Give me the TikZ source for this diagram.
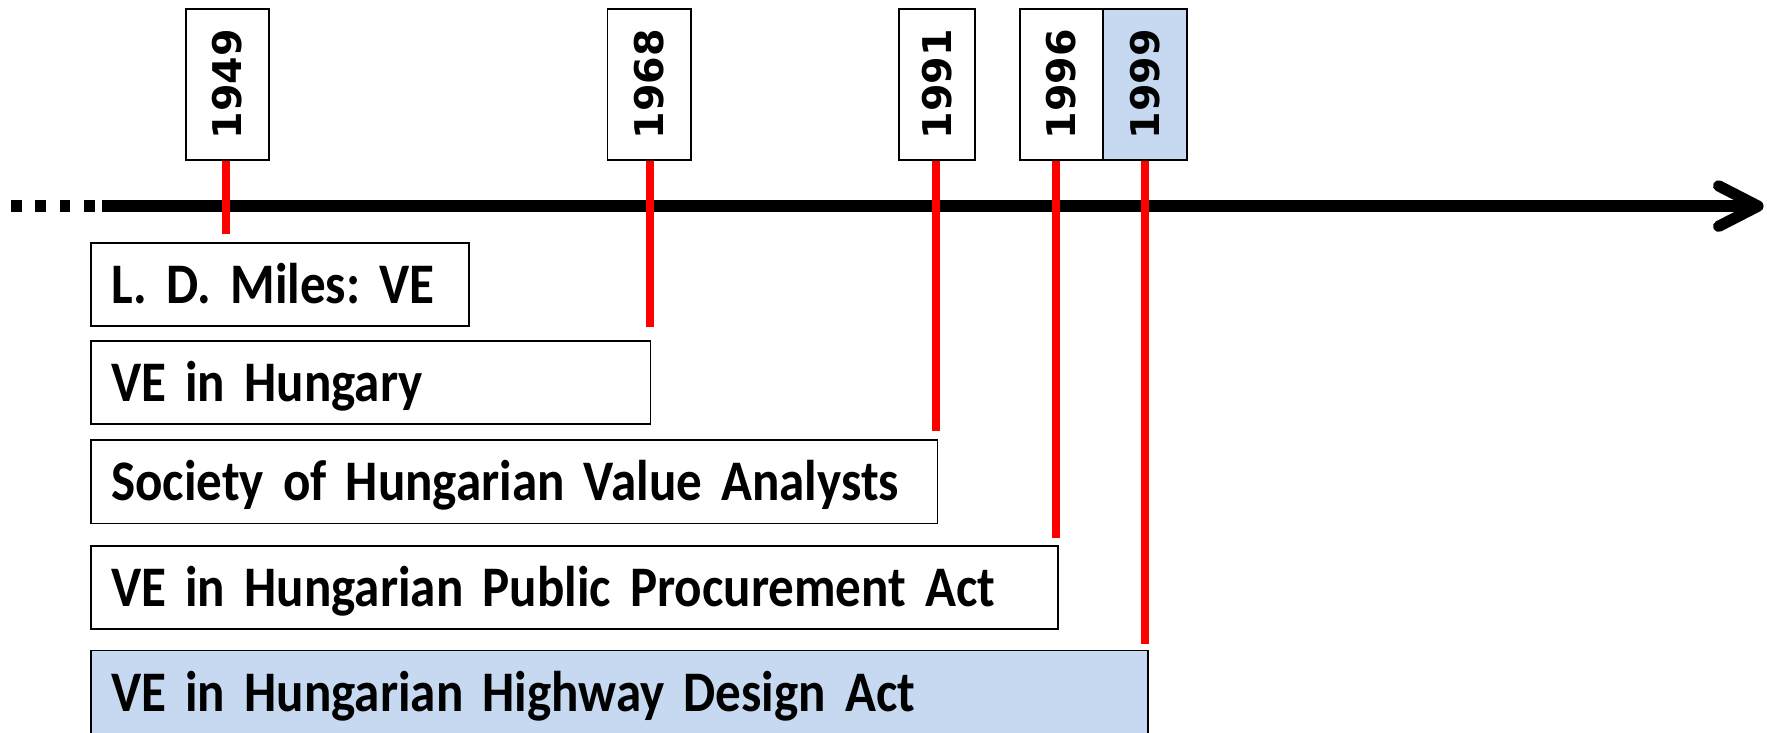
\documentclass[tikz,border=0pt]{standalone}
\usepackage{fontspec}
\setmainfont{Carlito}
\newfontfamily\eventfont{Carlito Bold}[FakeStretch=0.89,WordSpace=0.6]
\newfontfamily\yearfont{DejaVu Sans}
\usepackage{xcolor}
\usetikzlibrary{positioning, calc}
\definecolor{hlblue}{RGB}{198,217,241}

\begin{document}
\begin{tikzpicture}[x=0.02cm,y=-0.02cm,
    yearbox/.style={draw,line width=0.8pt,rotate=90,minimum width=2.68cm,minimum height=1.48cm,inner sep=0pt,
      font=\yearfont\bfseries\fontsize{20}{24}\selectfont},
    eventbox/.style={draw,line width=0.8pt,anchor=north west,minimum height=1.48cm,inner xsep=0.36cm,inner ysep=0pt,
      text width=#1,align=left,text height=18.7pt,text depth=0pt,font=\eventfont\frenchspacing\fontsize{29}{33}\selectfont},
    redline/.style={red,line width=0.14cm},
    axisline/.style={line width=0.2cm}]
      \useasboundingbox (0,0) rectangle (1569,650);
      \clip (0,0) rectangle (1569,650);

      \coordinate (dotA) at (10,183);
      \coordinate (dotB) at (85,183);
      \coordinate (axA) at (91,183);
      \coordinate (tip) at (1561,183);

      \draw[axisline,dash pattern=on 0.19cm off 0.24cm] (dotA) -- (dotB);
      \draw[axisline] (axA) -- ([xshift=-0.1cm]tip);
      \draw[axisline,line cap=round,line join=round] ($(tip)+(-35,-18)$) -- (tip) -- ($(tip)+(-35,18)$);

      \node[yearbox] (y1949) at (202,75) {1949};
      \node[yearbox] (y1968) at (576.5,75) {1968};
      \node[yearbox,minimum height=1.36cm] (y1991) at (832,75) {1991};
      \node[yearbox] (y1996) at (942.5,75) {1996};
      \node[yearbox,fill=hlblue] (y1999) at (1017,75) {1999};

      \node[eventbox=6cm] (miles) at (80,215) {L. D. Miles: VE};
      \node[eventbox=9.22cm] (hungary) at (80,302) {VE in Hungary};
      \node[eventbox=14.32cm] (society) at (80,390) {Society of Hungarian Value Analysts};
      \node[eventbox=16.46cm] (procure) at (80,484) {VE in Hungarian Public Procurement Act};
      \node[eventbox=18.06cm,fill=hlblue,minimum height=1.52cm] (highway) at (80,577) {VE in Hungarian Highway Design Act};

      \coordinate (e1949) at (201,208);
      \coordinate (e1968) at (577,290);
      \coordinate (e1991) at (831,383);
      \coordinate (e1996) at (938,478);
      \coordinate (e1999) at (1017,572);

      \draw[redline] (y1949.west -| e1949) -- (e1949);
      \draw[redline] (y1968.west -| e1968) -- (e1968);
      \draw[redline] (y1991.west -| e1991) -- (e1991);
      \draw[redline] (y1996.west -| e1996) -- (e1996);
      \draw[redline] (y1999.west -| e1999) -- (e1999);
    \end{tikzpicture}
\end{document}
